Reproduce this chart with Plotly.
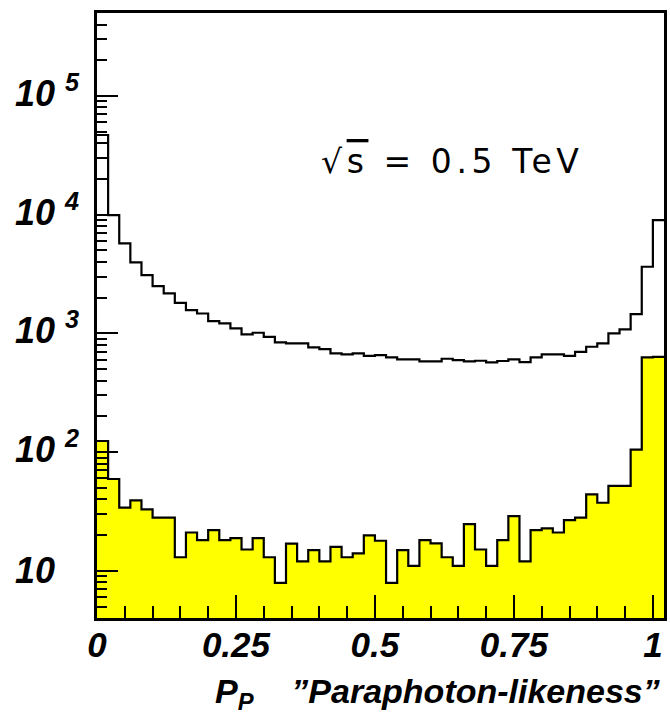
import numpy as np
import plotly.graph_objects as go

# ---- data ----
bin_width = 0.02
n_bins = 51
background = [46900, 9900, 5730, 3960, 3100, 2500, 2170, 1810, 1570, 1470,
              1270, 1215, 1100, 982, 1012, 936, 840, 824, 824, 762,
              738, 679, 665, 679, 647, 656, 628, 604, 604, 581,
              581, 611, 596, 581, 588, 570, 585, 604, 573, 628,
              665, 665, 647, 699, 771, 824, 1000, 1081, 1455, 3640,
              9000]
signal = [124, 59.3, 34, 39.2, 32.9, 28, 28, 13, 21, 18.1,
          22, 18.1, 18.8, 15.1, 18.8, 13, 7.9, 16.9, 12, 14.9,
          12, 15.9, 13, 14, 19.9, 17.9, 7.9, 14.9, 11, 18.1,
          17, 13, 11, 24.7, 15.1, 11, 18.1, 28.9, 12, 22,
          22.8, 21, 26.7, 28, 44, 37.4, 51.8, 51.8, 105, 628,
          635]
x_tickvals = [0, 0.25, 0.5, 0.75, 1]
x_ticktext = ["0", "0.25", "0.5", "0.75", "1"]
y_tickvals = [10, 100, 1000, 10000, 100000]
y_ticktext = ["10", "10 <sup>2</sup>", "10 <sup>3</sup>", "10 <sup>4</sup>", "10 <sup>5</sup>"]
x_title = "P<sub>P</sub>\u00a0\u00a0\u00a0\u00a0\u201dParaphoton-likeness\u201d"
energy_label = ("<span style='letter-spacing:4.6px'>\u221a"
                "<span style='text-decoration:overline'>s</span> = 0.5 TeV</span>")

edges = np.arange(n_bins + 1) * bin_width
centers = edges[:-1] + bin_width / 2

def step_y(vals):
    return list(vals) + [vals[-1]]

fig = go.Figure()
fig.add_trace(go.Bar(x=centers, y=signal, width=bin_width,
                     marker=dict(color="#ffff00", line=dict(width=0)),
                     showlegend=False, hoverinfo="skip"))
fig.add_trace(go.Scatter(x=edges, y=step_y(background), mode="lines",
                         line=dict(color="black", width=2.2, shape="hv"),
                         showlegend=False))
fig.add_trace(go.Scatter(x=edges, y=step_y(signal), mode="lines",
                         line=dict(color="black", width=2.2, shape="hv"),
                         showlegend=False))

minor_y = [k * 10 ** d for d in range(0, 6) for k in range(2, 10)
           if 4 <= k * 10 ** d <= 5e5]
minor_x = [round(v, 2) for v in np.arange(0, 1.0001, 0.05)]

FONT_B = "Liberation Sans"

fig.update_xaxes(range=[0, 1.02], tickmode="array", tickvals=x_tickvals,
                 ticktext=["<b><i>" + t + "</i></b>" for t in x_ticktext],
                 ticks="inside", ticklen=23, tickwidth=1.5, ticklabelstandoff=-6,
                 tickcolor="black", showline=True, linecolor="black",
                 linewidth=2.5, mirror=True, showgrid=False, zeroline=False,
                 tickfont=dict(family=FONT_B, size=35, color="black"),
                 minor=dict(tickvals=minor_x, ticks="inside", ticklen=12,
                            tickwidth=1.5, tickcolor="black", showgrid=False))
fig.update_yaxes(type="log", range=[np.log10(4), np.log10(5e5)], tickmode="array",
                 tickvals=y_tickvals, ticktext=y_ticktext, showticklabels=False,
                 ticks="inside", ticklen=21, tickwidth=1.5, tickcolor="black",
                 showline=True, linecolor="black", linewidth=2.5, mirror=True,
                 showgrid=False, zeroline=False,
                 minor=dict(tickvals=minor_y, ticks="inside", ticklen=10,
                            tickwidth=1.5, tickcolor="black", showgrid=False))

# y tick labels (left aligned like the reference)
for v, t in zip(y_tickvals, y_ticktext):
    has_sup = "<sup>" in t
    fig.add_annotation(xref="paper", yref="y", x=-0.149, y=np.log10(v),
                       text="<b><i>" + t + "</i></b>", showarrow=False,
                       xanchor="left", yanchor="middle",
                       yshift=5 if has_sup else 0,
                       font=dict(family=FONT_B, size=36, color="black"))

fig.add_annotation(xref="paper", yref="paper", x=0.997, y=-0.124,
                   text="<b><i>" + x_title + "</i></b>", showarrow=False,
                   xanchor="right", yanchor="middle",
                   font=dict(family=FONT_B, size=34, color="black"))

fig.add_annotation(xref="paper", yref="paper", x=0.392, y=0.755,
                   text=energy_label, showarrow=False,
                   xanchor="left", yanchor="middle",
                   font=dict(family="DejaVu Sans", size=33, color="black"))

fig.update_layout(width=670, height=713, bargap=0,
                  margin=dict(l=97, r=3, t=13, b=95),
                  plot_bgcolor="white", paper_bgcolor="white")

fig.write_html("out.html")
